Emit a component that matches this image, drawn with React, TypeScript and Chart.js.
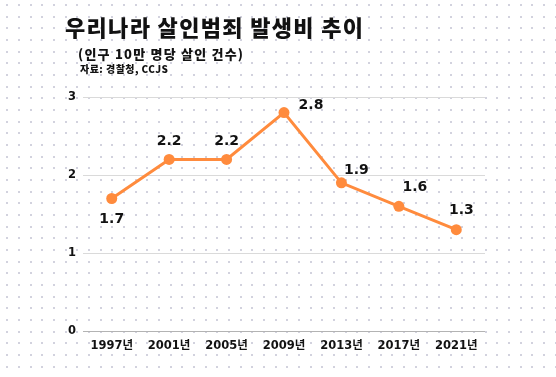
import React, { useEffect, useRef } from 'react';
import { Chart, registerables } from 'chart.js';

Chart.register(...registerables);

const years = ['1997년', '2001년', '2005년', '2009년', '2013년', '2017년', '2021년'];
const rates = [1.7, 2.2, 2.2, 2.8, 1.9, 1.6, 1.3];
const yMin = 0;
const yMax = 3;
const yStep = 1;
const titleText = '우리나라 살인범죄 발생비 추이';
const subtitleText = '(인구 10만 명당 살인 건수)';
const sourceText = '자료: 경찰청, CCJS';

const ORANGE = '#ff8b3d';
const INK = '#121212';
const NUM_FONT = '"DejaVu Sans", "Noto Sans CJK KR", sans-serif';
const KR_FONT = '"Noto Sans CJK KR", "DejaVu Sans", sans-serif';

// label placement style per point (relative offsets from point)
const placement: Array<[number, number]> = [
  [0, 21], [0, -18], [0, -18], [27, -7], [15, -13], [16, -19], [5, -19],
];

function fitText(ctx: CanvasRenderingContext2D, text: string, x: number, y: number, target: number) {
  const anyCtx = ctx as any;
  anyCtx.letterSpacing = '0px';
  const w = ctx.measureText(text).width;
  const n = Array.from(text).length;
  const ls = (target - w) / Math.max(1, n - 1);
  anyCtx.letterSpacing = ls + 'px';
  ctx.fillText(text, x, y);
  anyCtx.letterSpacing = '0px';
}

const decorPlugin = {
  id: 'decor',
  beforeDraw(chart: any) {
    const { ctx, width, height } = chart;
    ctx.save();
    ctx.fillStyle = '#ffffff';
    ctx.fillRect(0, 0, width, height);
    ctx.fillStyle = '#d2d2de';
    const sp = 11.67;
    for (let y = 5; y < height; y += sp) {
      for (let x = 7.3; x < width; x += sp) {
        ctx.fillRect(Math.round(x) - 1, Math.round(y) - 1, 2, 2);
      }
    }
    ctx.restore();
  },
  afterDraw(chart: any) {
    const { ctx } = chart;
    ctx.save();
    ctx.fillStyle = INK;
    ctx.textAlign = 'left';
    ctx.textBaseline = 'alphabetic';
    ctx.font = `900 22px ${KR_FONT}`;
    fitText(ctx, titleText, 65, 36, 298);
    ctx.font = `900 13px ${KR_FONT}`;
    fitText(ctx, subtitleText, 78, 59, 165);
    ctx.font = `900 10px ${KR_FONT}`;
    fitText(ctx, sourceText, 80, 73, 88);

    // data labels
    const meta = chart.getDatasetMeta(0);
    ctx.font = `700 14px ${NUM_FONT}`;
    ctx.textAlign = 'center';
    ctx.textBaseline = 'middle';
    meta.data.forEach((pt: any, i: number) => {
      const [dx, dy] = placement[i];
      ctx.fillText(String(rates[i]), pt.x + dx, pt.y + dy);
    });
    ctx.restore();
  },
};

export default function App() {
  const ref = useRef<HTMLCanvasElement>(null);
  useEffect(() => {
    if (!ref.current) return;
    const chart = new Chart(ref.current, {
      type: 'line',
      data: {
        labels: years,
        datasets: [
          {
            data: rates,
            borderColor: ORANGE,
            backgroundColor: ORANGE,
            borderWidth: 3,
            pointRadius: 5.5,
            pointBackgroundColor: ORANGE,
            pointBorderWidth: 0,
            tension: 0,
          },
        ],
      },
      options: {
        responsive: false,
        animation: false,
        layout: { padding: { left: 61, right: 71, top: 97, bottom: 24 } },
        plugins: { legend: { display: false }, tooltip: { enabled: false } },
        scales: {
          x: {
            offset: true,
            grid: { display: false },
            border: { display: false },
            ticks: { color: INK, padding: 0, font: { family: NUM_FONT, size: 11.5, weight: 'bold' } },
          },
          y: {
            min: yMin,
            max: yMax,
            ticks: { stepSize: yStep, color: INK, padding: 7, font: { family: NUM_FONT, size: 11.5, weight: 'bold' } },
            grid: {
              drawTicks: false,
              color: (c: any) => (c.tick && c.tick.value === 0 ? '#b3b3b3' : '#dadada'),
              lineWidth: 1,
            },
            border: { display: false },
          },
        },
      },
      plugins: [decorPlugin],
    });
    return () => chart.destroy();
  }, []);
  return (
    <div style={{ position: 'fixed', left: 0, top: 0, width: 556, height: 377, background: '#fff' }}>
      <canvas ref={ref} width={556} height={377} style={{ display: 'block' }} />
    </div>
  );
}
